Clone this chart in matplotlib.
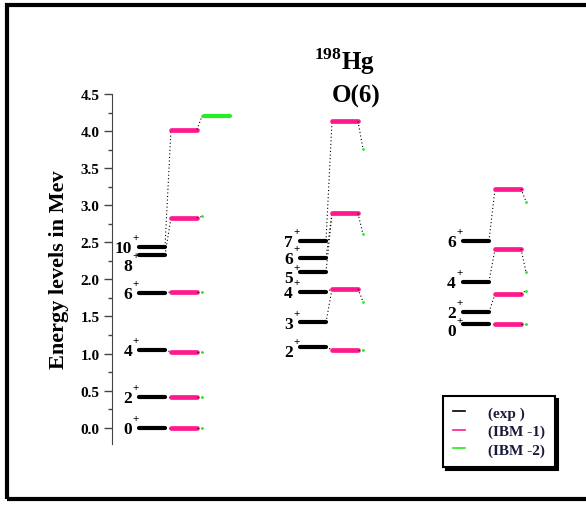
import matplotlib.pyplot as plt
from matplotlib.lines import Line2D
from matplotlib.patches import Rectangle

plt.rcParams['font.family'] = 'Liberation Serif'
plt.rcParams['font.weight'] = 'bold'
plt.rcParams['mathtext.fontset'] = 'custom'
plt.rcParams['mathtext.rm'] = 'Liberation Serif:bold'

# energy levels (MeV)
spins_a = ['0', '2', '4', '6', '8', '10']
exp_a = [0.0, 0.42, 1.05, 1.82, 2.33, 2.44]
ibm1_a = [0.0, 0.42, 1.02, 1.83, 2.83, 4.02]
ibm2_a = [0.0, 0.42, 1.02, 1.83, 2.85, 4.20]
link_a = [0, 1, 2, 3, 4, 5]

spins_b = ['2', '3', '4', '5', '6', '7']
exp_b = [1.09, 1.42, 1.83, 2.10, 2.29, 2.52]
ibm1_b = [1.05, 1.87, 2.89, 4.13]
ibm2_b = [1.05, 1.70, 2.61, 3.76]
link_b = [0, 1, 1, 2, 2, 3]

spins_c = ['0', '2', '4', '6']
exp_c = [1.40, 1.56, 1.97, 2.52]
ibm1_c = [1.40, 1.80, 2.41, 3.22]
ibm2_c = [1.40, 1.85, 2.10, 3.05]
link_c = [0, 1, 2, 3]

ibm2_bar_a = [4.20]

PINK = '#ff1a8c'
GREEN = '#22ee22'

fig = plt.figure(figsize=(5.86, 5.06), dpi=100)
ax = fig.add_axes([112 / 586, 61 / 506, 474 / 586, 350 / 506])
ax.set_xlim(0, 474)
ax.set_ylim(-0.22, 4.5)

# label nudges (points) so close levels do not collide
nudge_a = [0, 0, 0, 0, -7, 0]
nudge_b = [-3, 0, 0, -3, 0, 0]
nudge_c = [-4, 0, 0, 0]

groups = [
    (27, spins_a, exp_a, ibm1_a, ibm2_a, link_a, nudge_a),
    (188, spins_b, exp_b, ibm1_b, ibm2_b, link_b, nudge_b),
    (351, spins_c, exp_c, ibm1_c, ibm2_c, link_c, nudge_c),
]
w = 26
dots = dict(color='black', lw=0.8, ls=(0, (1, 2.2)))
for x0, spins, exp, ibm1, ibm2, link, nudge in groups:
    xe, xi = x0, x0 + 32
    x2 = xi + w + 5
    for s, e, k, dy in zip(spins, exp, link, nudge):
        ax.plot([xe, xe + w], [e, e], color='black', lw=3, solid_capstyle='round')
        ax.plot([xe + w, xi], [e, ibm1[k]], **dots)
        ax.annotate(s, (xe - 7, e), xytext=(0, dy - 1), textcoords='offset points',
                    ha='right', va='center', fontsize=12.5, fontweight='bold')
        ax.annotate('+', (xe - 7, e), xytext=(0, dy + 6.5), textcoords='offset points',
                    ha='left', va='center', fontsize=8)
    for v, v2 in zip(ibm1, ibm2):
        ax.plot([xi, xi + w], [v, v], color=PINK, lw=3.4, solid_capstyle='round')
        ax.plot([xi + w, x2], [v, v2], **dots)
        ax.plot([x2], [v2], marker='.', ms=2, color=GREEN)

# the one drawn IBM-2 level of the first band
for v in ibm2_bar_a:
    ax.plot([27 + 65, 27 + 91], [v, v], color=GREEN, lw=3, solid_capstyle='round')

ax.set_yticks([0.0, 0.5, 1.0, 1.5, 2.0, 2.5, 3.0, 3.5, 4.0, 4.5])
ax.set_yticks([0.25, 0.75, 1.25, 1.75, 2.25, 2.75, 3.25, 3.75, 4.25], minor=True)
ax.set_yticklabels(['%.1f' % t for t in ax.get_yticks()], fontsize=11, fontweight='bold')
ax.tick_params(axis='y', which='major', length=6, width=1, color='#444444', pad=3)
ax.tick_params(axis='y', which='minor', length=3, width=1, color='#444444')
ax.set_xticks([])
for side in ['top', 'right', 'bottom']:
    ax.spines[side].set_visible(False)
ax.spines['left'].set_color('#444444')
ax.spines['left'].set_bounds(-0.22, 4.5)
ax.set_ylabel('Energy levels in Mev', fontsize=16, fontweight='bold', labelpad=8)

fig.text(344 / 586, 1 - 62 / 506, r'$^{198}$Hg', ha='center', va='center', fontsize=18)
fig.text(356 / 586, 1 - 96 / 506, 'O(6)', ha='center', va='center', fontsize=18)

handles = [Line2D([], [], color='black', lw=1.2),
           Line2D([], [], color=PINK, lw=1.2),
           Line2D([], [], color=GREEN, lw=1.2)]
leg = fig.legend(handles, ['(exp )', '(IBM -1)', '(IBM -2)'],
                 loc='upper left', bbox_to_anchor=(443 / 586, 1 - 397 / 506),
                 borderaxespad=0, fontsize=11, handlelength=0.8, handletextpad=1.5,
                 labelspacing=0.3, borderpad=0.65, fancybox=False,
                 shadow={'color': 'black', 'alpha': 1, 'ox': 2.5, 'oy': -2.5})
leg.get_frame().set_edgecolor('black')
leg.get_frame().set_linewidth(1.5)
for t in leg.get_texts():
    t.set_fontweight('bold')
    t.set_color('#1a1a3a')

fig.patches.append(Rectangle((7 / 586, 6 / 506), 1.0, 494 / 506,
                             transform=fig.transFigure, fill=False,
                             edgecolor='black', lw=3))

fig.savefig('out.png', dpi=100)
